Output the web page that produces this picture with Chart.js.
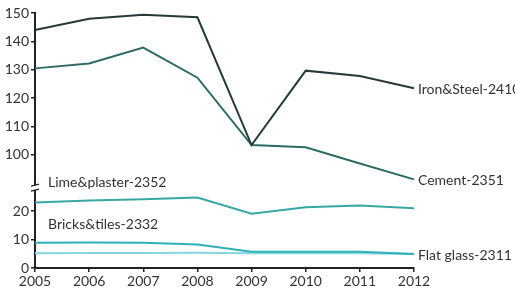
<!DOCTYPE html>
<html>
<head>
<meta charset="utf-8">
<script src="https://cdn.jsdelivr.net/npm/chart.js@4.4.0/dist/chart.umd.min.js"></script>
<style>
  html, body { margin: 0; padding: 0; background: #fff; }
  #wrap { width: 515px; height: 296px; }
</style>
</head>
<body>
<div id="wrap"><canvas id="myChart" width="515" height="296"></canvas></div>
<script>
// years on the x axis
const years = ["2005", "2006", "2007", "2008", "2009", "2010", "2011", "2012"];

// series
const ironSteel = [144, 148, 149.4, 148.5, 103.5, 129.7, 127.8, 123.5];
const cement = [130.5, 132.2, 137.8, 127.2, 103.5, 102.7, 97, 91.4];
const limePlaster = [23.1, 23.8, 24.2, 24.8, 19.1, 21.4, 22, 21];
const bricksTiles = [8.9, 9, 8.9, 8.3, 5.7, 5.7, 5.7, 4.9];
const flatGlass = [5.2, 5.3, 5.3, 5.4, 5.2, 5.2, 5.2, 4.9];

// tick labels for the broken y axis
const upperTicks = [100, 110, 120, 130, 140, 150];
const lowerTicks = [0, 10, 20];

const textColor = "#333";
const axisColor = "#222";
const fontFamily = "Lato, 'Open Sans', sans-serif";

// labels next to the lines + the // break mark on the y axis
const lineLabels = {
  id: "lineLabels",
  afterDatasetsDraw(chart) {
    const ctx = chart.ctx;
    ctx.save();
    ctx.font = "14px " + fontFamily;
    ctx.fillStyle = textColor;
    ctx.textBaseline = "middle";
    ctx.textAlign = "left";
    chart.data.datasets.forEach((ds, i) => {
      const pt = chart.getDatasetMeta(i).data[ds.labelAt];
      ctx.fillText(ds.label, pt.x + ds.labelDx, pt.y + ds.labelDy);
    });
    ctx.restore();
  },
  afterDraw(chart) {
    const ctx = chart.ctx;
    const x = chart.scales.upper.right;
    const y = Math.max(chart.scales.upper.bottom, chart.scales.lower.top);
    ctx.save();
    ctx.fillStyle = "#fff";
    ctx.fillRect(x - 3, y - 2, 6, 5);
    ctx.strokeStyle = axisColor;
    ctx.lineWidth = 1.2;
    ctx.beginPath();
    ctx.moveTo(x - 4, y - 1); ctx.lineTo(x + 4, y - 3);
    ctx.moveTo(x - 4, y + 4); ctx.lineTo(x + 4, y + 2);
    ctx.stroke();
    ctx.restore();
  },
};

const yTickStyle = {
  color: textColor,
  font: { family: fontFamily, size: 14 },
  padding: 2,
  autoSkip: false,
};

new Chart(document.getElementById("myChart"), {
  type: "line",
  data: {
    labels: years,
    datasets: [
      { label: "Iron&Steel-2410", data: ironSteel, yAxisID: "upper", borderColor: "#263a3a", labelAt: 7, labelDx: 4, labelDy: 1 },
      { label: "Cement-2351", data: cement, yAxisID: "upper", borderColor: "#2e6b65", labelAt: 7, labelDx: 4, labelDy: 1 },
      { label: "Lime&plaster-2352", data: limePlaster, yAxisID: "lower", borderColor: "#38a8a4", labelAt: 0, labelDx: 13, labelDy: -20 },
      { label: "Bricks&tiles-2332", data: bricksTiles, yAxisID: "lower", borderColor: "#2bb1b7", labelAt: 0, labelDx: 13, labelDy: -18 },
      { label: "Flat glass-2311", data: flatGlass, yAxisID: "lower", borderColor: "#86d6df", labelAt: 7, labelDx: 4, labelDy: 1 },
    ],
  },
  options: {
    responsive: false,
    animation: false,
    events: [],
    elements: {
      line: { borderWidth: 2, tension: 0 },
      point: { radius: 0 },
    },
    layout: { padding: { top: 13, right: 101, left: 0, bottom: 0 } },
    plugins: { legend: { display: false }, tooltip: { enabled: false } },
    scales: {
      x: {
        offset: false,
        grid: { drawOnChartArea: false, drawTicks: true, tickLength: 4, color: axisColor, lineWidth: 1.5 },
        border: { color: axisColor, width: 2 },
        ticks: { color: textColor, font: { family: fontFamily, size: 14 }, padding: 1, maxRotation: 0 },
        afterFit: (s) => { s.height = 28; },
      },
      lower: {
        type: "linear",
        position: "left",
        stack: "broken",
        stackWeight: 28.5,
        min: 0,
        max: 28.5,
        grid: { drawOnChartArea: false, drawTicks: true, tickLength: 4, color: axisColor, lineWidth: 1.5 },
        border: { color: axisColor, width: 2 },
        ticks: yTickStyle,
        afterBuildTicks: (s) => { s.ticks = lowerTicks.map((v) => ({ value: v })); },
        afterFit: (s) => { s.width = 35; },
      },
      upper: {
        type: "linear",
        position: "left",
        stack: "broken",
        stackWeight: 61.3,
        min: 88.7,
        max: 150,
        grid: { drawOnChartArea: false, drawTicks: true, tickLength: 4, color: axisColor, lineWidth: 1.5 },
        border: { color: axisColor, width: 2 },
        ticks: yTickStyle,
        afterBuildTicks: (s) => { s.ticks = upperTicks.map((v) => ({ value: v })); },
        afterFit: (s) => { s.width = 35; },
      },
    },
  },
  plugins: [lineLabels],
});
</script>
</body>
</html>
